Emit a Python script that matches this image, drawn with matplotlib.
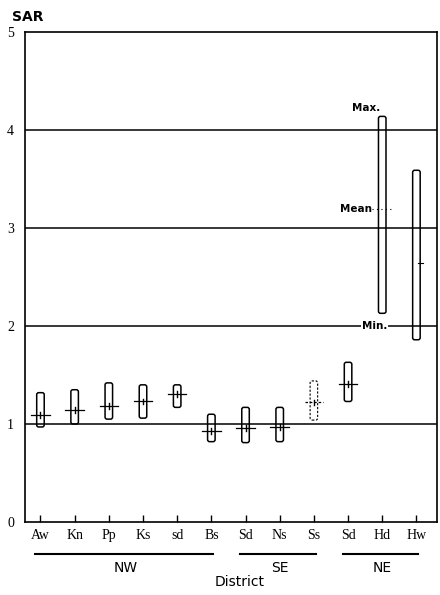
import matplotlib
matplotlib.use("Agg")
import matplotlib.pyplot as plt
from matplotlib.patches import FancyBboxPatch

# SAR ranges per sampling site
sites = ["Aw", "Kn", "Pp", "Ks", "sd", "Bs", "Sd", "Ns", "Ss", "Sd", "Hd", "Hw"]
sar_min = [0.97, 1.00, 1.05, 1.06, 1.17, 0.82, 0.81, 0.82, 1.04, 1.23, 2.13, 1.86]
sar_max = [1.32, 1.35, 1.42, 1.40, 1.40, 1.10, 1.17, 1.17, 1.44, 1.63, 4.14, 3.59]
sar_mean = [1.09, 1.14, 1.18, 1.23, 1.31, 0.93, 0.96, 0.97, 1.22, 1.41, 3.19, 2.64]
dashed_sites = [8]

districts = ["NW", "SE", "NE"]
district_span = [(0, 5), (6, 8), (9, 11)]

y_ticks = [0, 1, 2, 3, 4, 5]

fig = plt.figure(figsize=(4.4, 5.95), dpi=100)
ax = fig.add_axes([0.057, 0.1227, 0.936, 0.8233])

xs = list(range(1, len(sites) + 1))
ax.set_xlim(0.55, 12.6)
ax.set_ylim(0, 5)

# reference lines
for yv in [1, 2, 3, 4]:
    ax.axhline(yv, color="black", lw=1.1, zorder=1)

bw = 0.22
for i, x in enumerate(xs):
    ls = (0, (2, 1.5)) if i in dashed_sites else "-"
    lw = 0.8 if i in dashed_sites else 1.1
    box = FancyBboxPatch((x - bw / 2, sar_min[i]), bw, sar_max[i] - sar_min[i],
                         boxstyle="round,pad=0,rounding_size=0.06",
                         mutation_aspect=0.354,
                         fc="none", ec="black", lw=lw, ls=ls, zorder=3)
    ax.add_patch(box)
    if i < 10:
        ax.plot([x - 0.27, x + 0.27], [sar_mean[i]] * 2, color="black",
                lw=0.9, ls=ls, zorder=4)
        ax.plot([x, x], [sar_mean[i] - 0.03, sar_mean[i] + 0.03],
                color="black", lw=1.0, zorder=4)
    elif i == 10:
        ax.plot([x - 0.3, x + 0.3], [sar_mean[i]] * 2, color="black",
                lw=0.8, ls=(0, (1, 3)), zorder=4)
    else:
        ax.plot([x + 0.05, x + 0.2], [sar_mean[i]] * 2, color="black",
                lw=0.8, zorder=4)

# legend annotations on the Hd bar
txt_kw = dict(fontsize=7.5, fontweight="bold", family="DejaVu Sans",
              va="center", zorder=5)
ax.text(10.93, 4.23, "Max.", ha="right", **txt_kw)
ax.text(10.7, sar_mean[10], "Mean", ha="right", **txt_kw)
ax.text(10.77, 2.0, "Min.", ha="center",
        bbox=dict(fc="white", ec="none", pad=0.5), **txt_kw)

ax.set_xticks(xs)
ax.set_xticklabels(sites, family="Liberation Serif", fontsize=10)
ax.set_yticks(y_ticks)
ax.set_yticklabels([str(v) for v in y_ticks], family="Liberation Serif",
                   fontsize=10)
ax.tick_params(axis="x", direction="in", length=5, width=1.0, pad=5)
ax.tick_params(axis="y", length=0, pad=8)
for s in ax.spines.values():
    s.set_linewidth(1.2)

# district brackets
for name, (a, b) in zip(districts, district_span):
    x0, x1 = xs[a] - 0.15, xs[b] + 0.05
    ax.plot([x0, x1], [-0.33, -0.33], color="black", lw=1.5,
            clip_on=False)
    ax.text((xs[a] + xs[b]) / 2, -0.47, name, ha="center", va="center",
            fontsize=10, family="DejaVu Sans")

fig.text(0.545, 0.022, "District", ha="center", va="center", fontsize=10,
         family="DejaVu Sans")
fig.text(0.027, 0.972, "SAR", ha="left", va="center", fontsize=10,
         fontweight="bold", family="DejaVu Sans")

fig.savefig("out.png", dpi=100)
